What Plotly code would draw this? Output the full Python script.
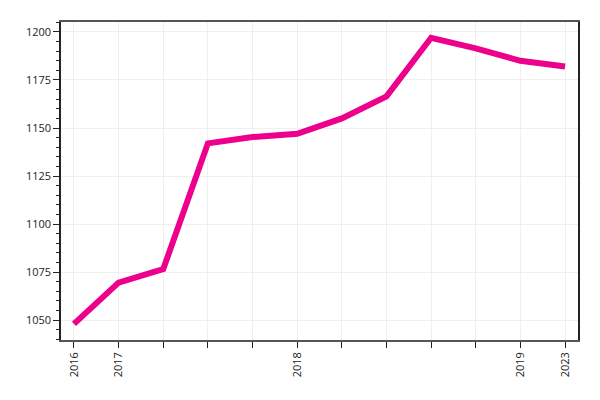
import plotly.graph_objects as go

x_index = list(range(12))
values = [1048, 1069.5, 1076.5, 1142, 1145.3, 1147, 1155, 1166.5, 1197, 1191.5, 1185, 1182]
tick_labels = ["2016", "2017", "", "", "", "2018", "", "", "", "", "2019", "2023"]

fig = go.Figure(go.Scatter(
    x=x_index, y=values, mode="lines",
    line=dict(color="#EC008C", width=6),
))

fig.update_layout(
    width=600, height=400,
    margin=dict(l=53, r=30, t=14, b=68, autoexpand=False),
    paper_bgcolor="white", plot_bgcolor="white",
    font=dict(family="Open Sans", size=11, color="#222"),
    showlegend=False,
)
fig.update_xaxes(
    tickmode="array", tickvals=x_index, ticktext=tick_labels,
    tickangle=-90, range=[-0.29, 11.29],
    showline=True, linecolor="#555", linewidth=1.5, mirror=True,
    ticks="outside", ticklen=6, tickcolor="#222",
    showgrid=True, gridcolor="#efefef", zeroline=False,
)
fig.update_yaxes(
    range=[1039.6, 1205.2], dtick=25,
    showline=True, linecolor="#222", linewidth=1.5, mirror=True,
    ticks="outside", ticklen=6, tickcolor="#222",
    minor=dict(dtick=5, ticks="outside", ticklen=3, tickcolor="#222", showgrid=False),
    showgrid=True, gridcolor="#efefef", zeroline=False,
)

fig.write_html("out.html")
